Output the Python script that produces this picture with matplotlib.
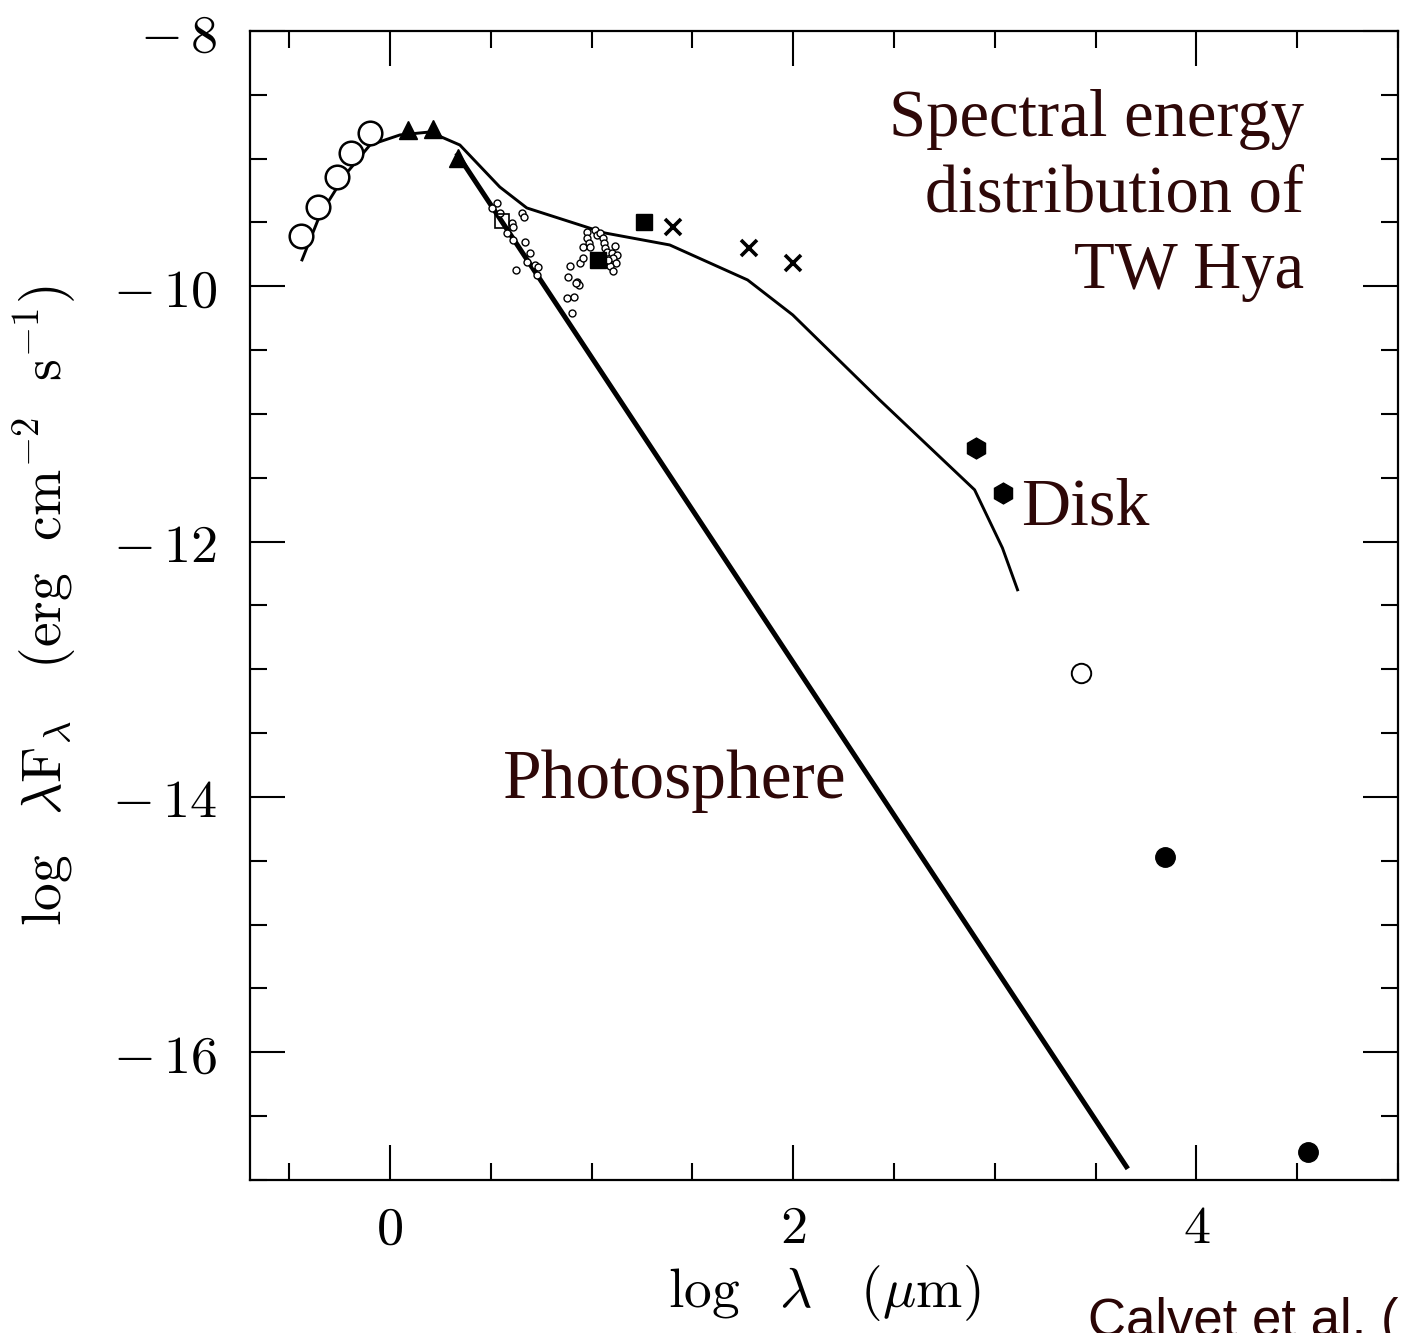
import matplotlib
matplotlib.use("Agg")
import matplotlib.pyplot as plt
from matplotlib.ticker import MultipleLocator, FixedLocator

plt.rcParams["mathtext.fontset"] = "cm"

# model SED (disk + star), thin line
model_x = [-0.436, -0.347, -0.223, -0.099, 0.050, 0.198, 0.347, 0.545, 0.679,
           1.066, 1.388, 1.774, 1.998, 2.429, 2.900, 3.038, 3.113]
model_y = [-9.793, -9.441, -9.128, -8.893, -8.814, -8.791, -8.893, -9.222, -9.386,
           -9.582, -9.676, -9.950, -10.224, -10.890, -11.594, -12.049, -12.377]

# photosphere, thick line
phot_x = [0.337, 3.653]
phot_y = [-8.971, -16.896]

# photometry
opt_x = [-0.441, -0.357, -0.263, -0.193, -0.099]
opt_y = [-9.605, -9.378, -9.143, -8.955, -8.799]
nir_x = [0.089, 0.213, 0.337]
nir_y = [-8.775, -8.767, -8.995]
osq_x = [0.555]
osq_y = [-9.488]
fsq_x = [1.031, 1.259]
fsq_y = [-9.793, -9.496]
iras_x = [1.403, 1.780, 1.998]
iras_y = [-9.535, -9.699, -9.817]
hex_x = [2.905, 3.043]
hex_y = [-11.265, -11.618]
ocirc_x = [3.430]
ocirc_y = [-13.027]
fcirc_x = [3.846, 4.555]
fcirc_y = [-14.468, -16.778]

# mid-IR spectrum points
spec_x = [0.530, 0.506, 0.545, 0.605, 0.610, 0.580, 0.610, 0.669, 0.654, 0.664,
          0.694, 0.679, 0.719, 0.734, 0.729, 0.625, 0.892, 0.942, 0.957, 0.882,
          0.927, 0.937, 0.922, 0.877, 0.912, 0.902, 0.957, 0.976, 0.976, 0.986,
          0.991, 1.016, 1.026, 1.041, 1.056, 1.061, 1.066, 1.076, 1.100, 1.115,
          1.125, 1.105, 1.120, 1.090, 1.105, 1.081]
spec_y = [-9.347, -9.386, -9.425, -9.504, -9.535, -9.582, -9.637, -9.652, -9.425, -9.457,
          -9.738, -9.809, -9.832, -9.848, -9.911, -9.872, -9.840, -9.817, -9.778, -9.926,
          -9.966, -9.989, -9.973, -10.091, -10.083, -10.208, -9.691, -9.574, -9.621, -9.660,
          -9.691, -9.558, -9.597, -9.582, -9.621, -9.660, -9.699, -9.731, -9.738, -9.684,
          -9.754, -9.778, -9.817, -9.840, -9.879, -9.793]

xticks = [0, 2, 4]
yticks = [-8, -10, -12, -14, -16]

fig = plt.figure(figsize=(14.01, 13.33), dpi=100)
ax = fig.add_axes([250 / 1401, 1 - 1180 / 1333, 1148 / 1401, 1149 / 1333])

ax.plot(model_x, model_y, color="black", lw=2.1)
ax.plot(phot_x, phot_y, color="black", lw=3.6)

ax.plot(spec_x, spec_y, "o", ms=5, mfc="white", mec="black", mew=1.0, ls="none")
ax.plot(opt_x, opt_y, "o", ms=17, mfc="white", mec="black", mew=1.8, ls="none")
ax.plot(nir_x, nir_y, "^", ms=13, color="black", ls="none")
ax.plot(osq_x, osq_y, "s", ms=10, mfc="none", mec="black", mew=1.2, ls="none")
ax.plot(fsq_x, fsq_y, "s", ms=11, color="black", ls="none")
ax.plot(iras_x, iras_y, "x", ms=11, color="black", mew=2.6, ls="none")
ax.plot(hex_x, hex_y, "h", ms=15, color="black", ls="none")
ax.plot(ocirc_x, ocirc_y, "o", ms=14, mfc="white", mec="black", mew=1.4, ls="none")
ax.plot(fcirc_x, fcirc_y, "o", ms=14, color="black", ls="none")

ax.set_xlim(-0.694, 5.0)
ax.set_ylim(-17.0, -8.0)

ax.xaxis.set_major_locator(FixedLocator(xticks))
ax.xaxis.set_minor_locator(MultipleLocator(0.5))
ax.yaxis.set_major_locator(FixedLocator(yticks))
ax.yaxis.set_minor_locator(MultipleLocator(0.5))
ax.set_xticklabels([r"$%d$" % v for v in xticks])
ax.set_yticklabels([r"$-\,%d$" % abs(v) for v in yticks])
ax.tick_params(which="both", direction="in", top=True, right=True, width=1.5,
               labelsize=39)
ax.tick_params(axis="y", pad=24)
ax.tick_params(axis="x", pad=16)
ax.tick_params(which="major", length=25)
ax.tick_params(which="minor", length=12)
for s in ax.spines.values():
    s.set_linewidth(1.6)

ax.set_xlabel(r"$\log\ \ \lambda\ \ \ (\mu{\rm m})$", fontsize=40, labelpad=6)
ax.set_ylabel(r"$\log\ \ \lambda{\rm F}_\lambda\ \ \ ({\rm erg\ \ cm^{-2}\ \ s^{-1}})$",
              fontsize=40, labelpad=24)

maroon = "#2e0808"
ax.text(0.918, 0.857, "Spectral energy\ndistribution of\nTW Hya", transform=ax.transAxes,
        ha="right", va="center", fontsize=48, color=maroon, family="Liberation Serif",
        linespacing=1.32)
ax.text(3.13, -11.74, "Disk", ha="left", va="center", fontsize=49, color=maroon,
        family="Liberation Serif")
ax.text(0.56, -13.88, "Photosphere", ha="left", va="center", fontsize=50, color=maroon,
        family="Liberation Serif")

fig.text(1088 / 1401, -3 / 1333, "Calvet et al. (2002)", ha="left", va="baseline",
         fontsize=38, color="#2a0505", family="Liberation Sans")

fig.savefig("out.png", dpi=100)
